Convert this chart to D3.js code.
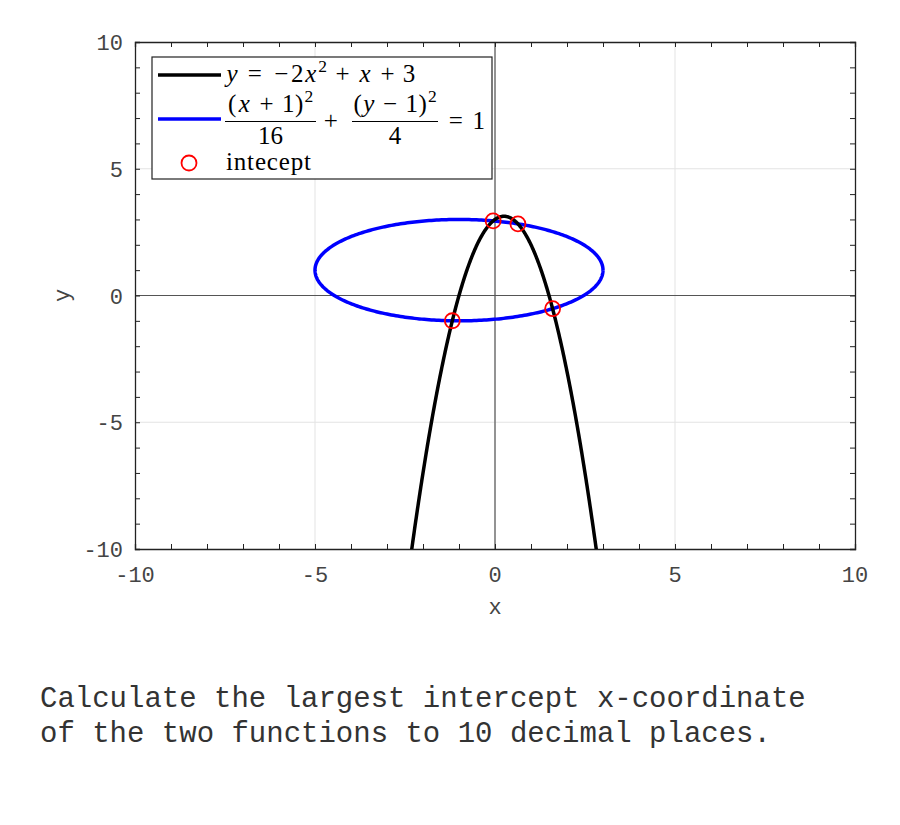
<!DOCTYPE html>
<html>
<head>
<meta charset="utf-8">
<script src="https://cdn.jsdelivr.net/npm/d3@7"></script>
<style>
  body { margin: 0; background: #fff; }
  .tick-label { font-family: "Courier New", "FreeMono", "Nimbus Mono PS", "Liberation Mono", monospace; font-size: 22px; fill: #444; }
  .math { font-family: "Liberation Serif", "DejaVu Serif", serif; font-size: 25px; fill: #000; }
  .question { font-family: "Courier New", "FreeMono", "Nimbus Mono PS", "Liberation Mono", monospace; font-size: 29px; fill: #333; }
</style>
</head>
<body>
<div id="graph"></div>
<script>
// domain of the plot
var xDomain = [-10, 10];
var yDomain = [-10, 10];
var majorTicks = [-10, -5, 0, 5, 10];
var gridTicks = [-5, 0, 5];

// parabola y = a x^2 + b x + c
var parabolaCoef = [-2, 1, 3];
// ellipse (x-h)^2/rx^2 + (y-k)^2/ry^2 = 1
var ellipseCenter = [-1, 1];
var ellipseRadii = [4, 2];

// intercept points
var interceptX = [-1.1856, -0.0517, 0.6372, 1.6002];
var interceptY = [-0.997, 2.943, 2.825, -0.521];

var legendLabel = "intecept";
var questionLines = [
  "Calculate the largest intercept x-coordinate",
  "of the two functions to 10 decimal places."
];

var width = 900, height = 825;
var margin = {top: 42, right: 45, bottom: 276, left: 135};

var svg = d3.select("#graph").append("svg")
    .attr("width", width)
    .attr("height", height);

var xScale = d3.scaleLinear().domain(xDomain).range([margin.left, width - margin.right]);
var yScale = d3.scaleLinear().domain(yDomain).range([height - margin.bottom, margin.top]);

var x0 = xScale.range()[0], x1 = xScale.range()[1];
var y0 = yScale.range()[1], y1 = yScale.range()[0];

svg.append("clipPath").attr("id", "clip")
  .append("rect")
    .attr("x", x0).attr("y", y0)
    .attr("width", x1 - x0).attr("height", y1 - y0);

// grid
svg.selectAll(".gx").data(gridTicks).enter().append("line")
    .attr("x1", function(d) { return xScale(d); })
    .attr("x2", function(d) { return xScale(d); })
    .attr("y1", y0).attr("y2", y1)
    .attr("stroke", "#e3e3e3").attr("stroke-width", 1);
svg.selectAll(".gy").data(gridTicks).enter().append("line")
    .attr("y1", function(d) { return yScale(d); })
    .attr("y2", function(d) { return yScale(d); })
    .attr("x1", x0).attr("x2", x1)
    .attr("stroke", "#e3e3e3").attr("stroke-width", 1);

// axes through origin
svg.append("line")
    .attr("x1", xScale(0)).attr("x2", xScale(0))
    .attr("y1", y0).attr("y2", y1)
    .attr("stroke", "#555").attr("stroke-width", 1.2);
svg.append("line")
    .attr("y1", yScale(0)).attr("y2", yScale(0))
    .attr("x1", x0).attr("x2", x1)
    .attr("stroke", "#555").attr("stroke-width", 1.2);

// box axes with inward ticks
var minor = d3.range(-10, 11, 1);
var bottomAxis = d3.axisBottom(xScale).tickValues(minor).tickSize(-5).tickFormat("");
var topAxis = d3.axisTop(xScale).tickValues(minor).tickSize(-5).tickFormat("");
var leftAxis = d3.axisLeft(yScale).tickValues(minor).tickSize(-5).tickFormat("");
var rightAxis = d3.axisRight(yScale).tickValues(minor).tickSize(-5).tickFormat("");

function styleAxis(g) {
  g.select(".domain").attr("stroke", "#222").attr("stroke-width", 1.3);
  g.selectAll(".tick line").attr("stroke", "#222").attr("stroke-width", 1);
}

svg.append("g").attr("transform", "translate(0," + y1 + ")").call(bottomAxis).call(styleAxis);
svg.append("g").attr("transform", "translate(0," + y0 + ")").call(topAxis).call(styleAxis);
svg.append("g").attr("transform", "translate(" + x0 + ",0)").call(leftAxis).call(styleAxis);
svg.append("g").attr("transform", "translate(" + x1 + ",0)").call(rightAxis).call(styleAxis);

// tick labels
svg.selectAll(".xl").data(majorTicks).enter().append("text")
    .attr("class", "tick-label")
    .attr("x", function(d) { return xScale(d); })
    .attr("y", y1 + 33)
    .attr("text-anchor", "middle")
    .text(function(d) { return d; });
svg.selectAll(".yl").data(majorTicks).enter().append("text")
    .attr("class", "tick-label")
    .attr("x", x0 - 12)
    .attr("y", function(d) { return yScale(d) + 8; })
    .attr("text-anchor", "end")
    .text(function(d) { return d; });

svg.append("text").attr("class", "tick-label")
    .attr("x", xScale(0)).attr("y", y1 + 65)
    .attr("text-anchor", "middle").text("x");
svg.append("text").attr("class", "tick-label")
    .attr("transform", "translate(69," + yScale(0) + ") rotate(-90)")
    .attr("text-anchor", "middle").text("y");

// curves
var plot = svg.append("g").attr("clip-path", "url(#clip)");

var xs = d3.range(-3, 3.0001, 0.01);
var parabola = xs.map(function(x) {
  return [x, parabolaCoef[0] * x * x + parabolaCoef[1] * x + parabolaCoef[2]];
});
var ts = d3.range(0, 2 * Math.PI + 0.001, Math.PI / 180);
var ellipse = ts.map(function(t) {
  return [ellipseCenter[0] + ellipseRadii[0] * Math.cos(t), ellipseCenter[1] + ellipseRadii[1] * Math.sin(t)];
});

var line = d3.line()
    .x(function(d) { return xScale(d[0]); })
    .y(function(d) { return yScale(d[1]); });

plot.append("path").datum(ellipse)
    .attr("d", line)
    .attr("fill", "none").attr("stroke", "#0000ff").attr("stroke-width", 3.5);
plot.append("path").datum(parabola)
    .attr("d", line)
    .attr("fill", "none").attr("stroke", "#000").attr("stroke-width", 3.5);

plot.selectAll(".pt").data(interceptX).enter().append("circle")
    .attr("cx", function(d) { return xScale(d); })
    .attr("cy", function(d, i) { return yScale(interceptY[i]); })
    .attr("r", 7.5)
    .attr("fill", "none").attr("stroke", "#ff0000").attr("stroke-width", 1.8);

// legend
var lg = svg.append("g");
lg.append("rect").attr("x", 152).attr("y", 57).attr("width", 340).attr("height", 122)
    .attr("fill", "#fff").attr("stroke", "#222").attr("stroke-width", 1.2);
lg.append("line").attr("x1", 158).attr("x2", 221).attr("y1", 75).attr("y2", 75)
    .attr("stroke", "#000").attr("stroke-width", 3.5);
lg.append("line").attr("x1", 158).attr("x2", 221).attr("y1", 119).attr("y2", 119)
    .attr("stroke", "#0000ff").attr("stroke-width", 3.5);
lg.append("circle").attr("cx", 189).attr("cy", 163).attr("r", 7.5)
    .attr("fill", "none").attr("stroke", "#ff0000").attr("stroke-width", 1.8);

// tiny TeX-like layout: each token is [text, kind, boxWidthEm]
// kinds: i = italic, r = roman, s = superscript, _ = space
var em = 25;
function mathRow(x, y, tokens) {
  var cx = x;
  tokens.forEach(function(tk) {
    var w = tk[2] * em;
    if (tk[1] !== "_") {
      var t = lg.append("text").attr("class", "math")
          .attr("x", cx + w / 2).attr("y", tk[1] === "s" ? y - 0.4 * em : y)
          .attr("text-anchor", "middle")
          .text(tk[0]);
      if (tk[1] === "i") t.style("font-style", "italic");
      if (tk[1] === "s") t.style("font-size", (0.7 * em) + "px");
    }
    cx += w;
  });
  return cx;
}
function rowWidth(tokens) {
  return d3.sum(tokens, function(tk) { return tk[2]; }) * em;
}

var sp = function(w) { return ["", "_", w]; };
var row1 = [["y", "i", 0.49], sp(0.278), ["=", "r", 0.778], sp(0.278), ["\u2212", "r", 0.778], ["2", "r", 0.5],
  ["x", "i", 0.572], ["2", "s", 0.38], sp(0.222), ["+", "r", 0.778], sp(0.222), ["x", "i", 0.572],
  sp(0.222), ["+", "r", 0.778], sp(0.222), ["3", "r", 0.5]];
mathRow(226, 82, row1);

var num1 = [["(", "r", 0.389], ["x", "i", 0.572], sp(0.222), ["+", "r", 0.778], sp(0.222), ["1", "r", 0.5], [")", "r", 0.389], ["2", "s", 0.38]];
var num2 = [["(", "r", 0.389], ["y", "i", 0.49], sp(0.222), ["\u2212", "r", 0.778], sp(0.222), ["1", "r", 0.5], [")", "r", 0.389], ["2", "s", 0.38]];
var den1 = [["16", "r", 1.0]];
var den2 = [["4", "r", 0.5]];

function fraction(xl, xr, num, den) {
  var mid = (xl + xr) / 2;
  mathRow(mid - rowWidth(num) / 2, 112, num);
  lg.append("line").attr("x1", xl).attr("x2", xr).attr("y1", 121.5).attr("y2", 121.5)
      .attr("stroke", "#000").attr("stroke-width", 1.1);
  mathRow(mid - rowWidth(den) / 2, 143.5, den);
}
fraction(225, 316, num1, den1);
mathRow(321, 128.5, [["+", "r", 0.778]]);
fraction(352, 438, num2, den2);
mathRow(446, 128.5, [["=", "r", 0.778], sp(0.278), ["1", "r", 0.5]]);

lg.append("text").attr("class", "math")
    .attr("x", 226).attr("y", 170)
    .attr("textLength", 85).attr("lengthAdjust", "spacing")
    .text(legendLabel);

// question text
svg.selectAll(".q").data(questionLines).enter().append("text")
    .attr("class", "question")
    .attr("x", 40)
    .attr("y", function(d, i) { return 707 + i * 35; })
    .attr("xml:space", "preserve")
    .text(function(d) { return d; });
</script>
</body>
</html>
